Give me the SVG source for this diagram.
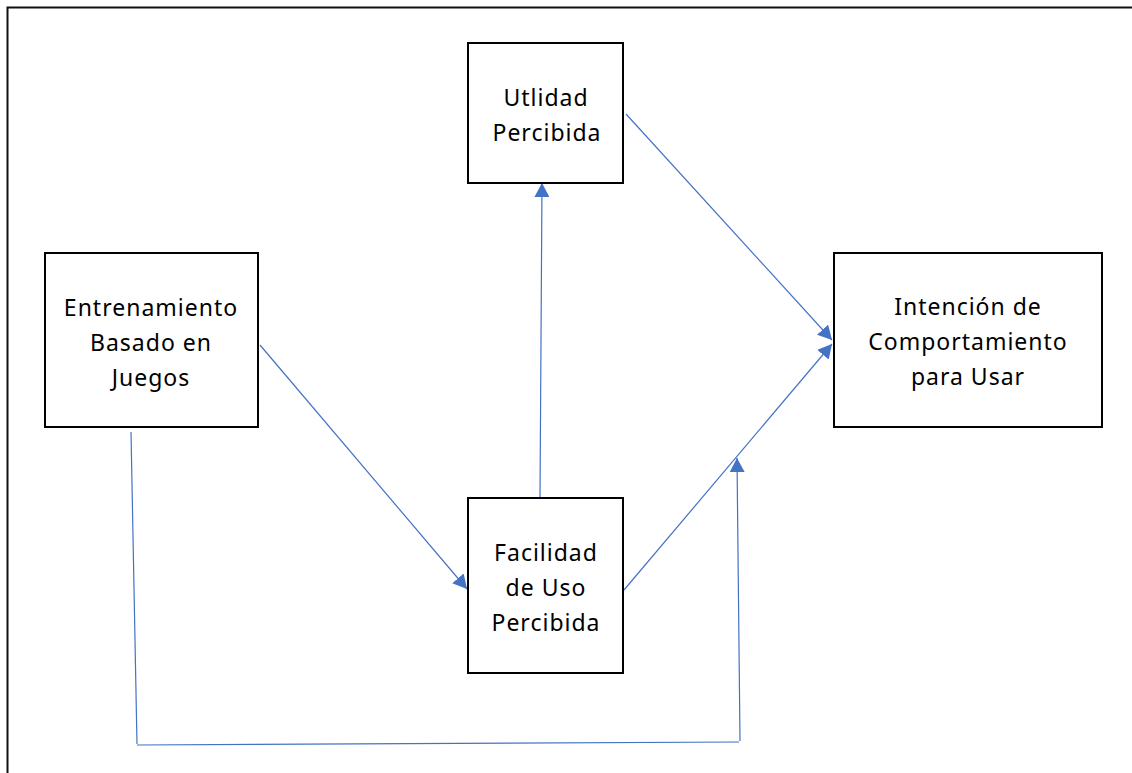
<svg xmlns="http://www.w3.org/2000/svg" width="1132" height="773" viewBox="0 0 1132 773">
  <style>
    .box { fill: #ffffff; stroke: #000000; stroke-width: 2; }
    .label { font-family: "Noto Sans", "Open Sans", sans-serif; font-size: 23px; letter-spacing: 1px; fill: #000000; text-anchor: middle; }
    .link { fill: none; stroke: #4472C4; stroke-width: 1.2; }
  </style>
  <defs>
    <marker id="arrow" viewBox="0 0 14 15" refX="14" refY="7.5" markerWidth="14" markerHeight="15" markerUnits="userSpaceOnUse" orient="auto">
      <path d="M0,0 L14,7.5 L0,15 Z" fill="#4472C4"/>
    </marker>
  </defs>

  <rect width="1132" height="773" fill="#ffffff"/>

  <!-- frame -->
  <path d="M7.5,773 V7.5 H1132" fill="none" stroke="#111111" stroke-width="2"/>

  <!-- connectors -->
  <g id="connectors">
    <line class="link" x1="260" y1="345" x2="467" y2="589" marker-end="url(#arrow)"/>
    <line class="link" x1="540" y1="497" x2="542" y2="183" marker-end="url(#arrow)"/>
    <line class="link" x1="626" y1="114" x2="832" y2="340" marker-end="url(#arrow)"/>
    <line class="link" x1="624" y1="590" x2="832" y2="344" marker-end="url(#arrow)"/>
    <polyline class="link" points="131,432 137,744"/>
    <line class="link" x1="137" y1="745" x2="739" y2="742"/>
    <line class="link" x1="740" y1="741" x2="737" y2="458" marker-end="url(#arrow)"/>
  </g>

  <g id="utilidad">
    <rect class="box" x="468" y="43" width="155" height="140"/>
    <text class="label" x="546" y="106">Utlidad</text>
    <text class="label" x="547" y="141">Percibida</text>
  </g>

  <g id="entrenamiento">
    <rect class="box" x="45" y="253" width="213" height="174"/>
    <text class="label" x="151" y="316">Entrenamiento</text>
    <text class="label" x="151" y="351">Basado en</text>
    <text class="label" x="151" y="386">Juegos</text>
  </g>

  <g id="intencion">
    <rect class="box" x="834" y="253" width="268" height="174"/>
    <text class="label" x="968" y="315">Intención de</text>
    <text class="label" x="968" y="350">Comportamiento</text>
    <text class="label" x="968" y="385">para Usar</text>
  </g>

  <g id="facilidad">
    <rect class="box" x="468" y="498" width="155" height="175"/>
    <text class="label" x="546" y="561">Facilidad</text>
    <text class="label" x="546" y="596">de Uso</text>
    <text class="label" x="546" y="631">Percibida</text>
  </g>
</svg>
